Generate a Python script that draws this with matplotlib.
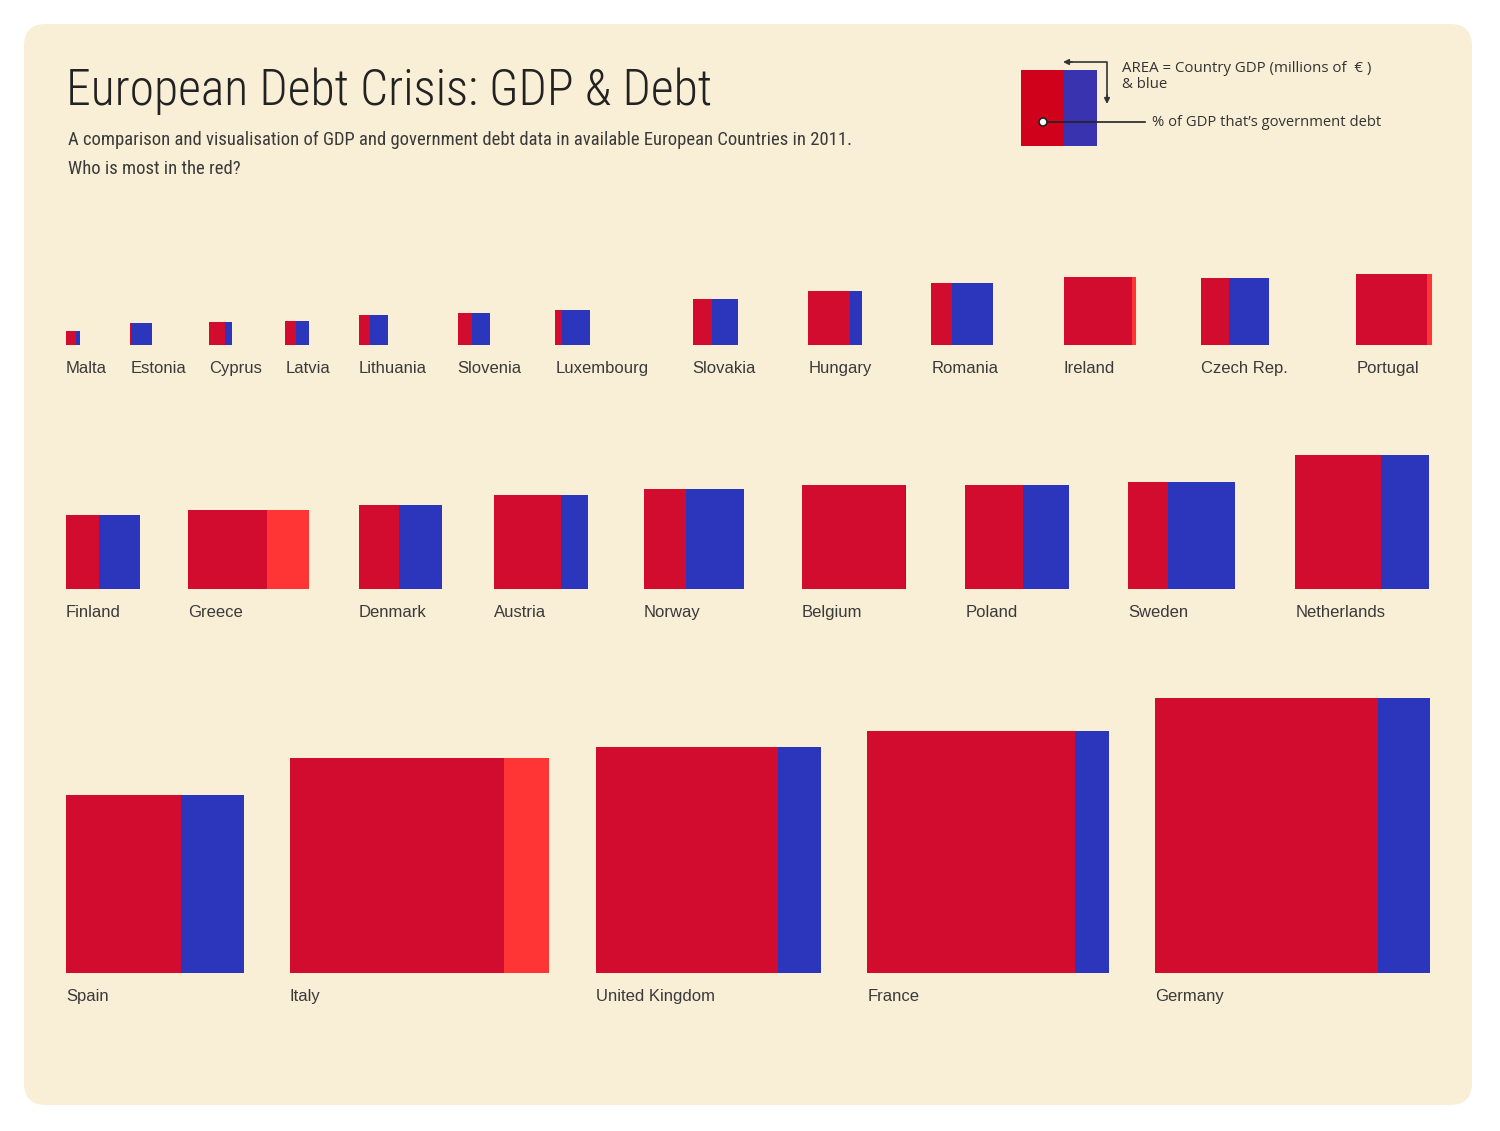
import matplotlib
matplotlib.use("Agg")
import matplotlib.pyplot as plt
from matplotlib.patches import Rectangle, FancyBboxPatch, Circle
from matplotlib import font_manager as fm
import numpy as np

# ---------------- data (2011) ----------------
row1_countries = ["Malta", "Estonia", "Cyprus", "Latvia", "Lithuania", "Slovenia",
                  "Luxembourg", "Slovakia", "Hungary", "Romania", "Ireland",
                  "Czech Rep.", "Portugal"]
row1_gdp = [6400, 16000, 17500, 19500, 30000, 35500, 41500, 71000, 100400,
            130000, 159000, 156000, 171000]          # millions of EUR
row1_debt = [71, 6, 69, 45, 38, 45, 19, 42, 78, 34, 106, 41, 107]  # % of GDP

row2_countries = ["Finland", "Greece", "Denmark", "Austria", "Norway", "Belgium",
                  "Poland", "Sweden", "Netherlands"]
row2_gdp = [190000, 213000, 240500, 306000, 343000, 370000, 370000, 390000, 612000]
row2_debt = [44, 153, 48, 71, 42, 99, 56, 37, 64]

row3_countries = ["Spain", "Italy", "United Kingdom", "France", "Germany"]
row3_gdp = [1080000, 1580000, 1745000, 2001000, 2592000]
row3_debt = [65, 121, 81, 86, 81]

# ---------------- style ----------------
RED = "#D10C2F"
BLUE = "#2B36BC"
EXCESS = "#FF3434"
BG = "#F9EED6"
TXT = "#3A3A3A"

avail = {f.name for f in fm.fontManager.ttflist}
cond_family, cond_stretch = "DejaVu Sans", "normal"
for name in ["Roboto Condensed", "Liberation Sans Narrow", "Open Sans Condensed"]:
    if name in avail:
        cond_family = name
        break
else:
    if any(f.name == "DejaVu Sans" and str(f.stretch) in ("condensed", "semi-condensed")
           for f in fm.fontManager.ttflist):
        cond_stretch = "condensed"
label_family = "Liberation Sans" if "Liberation Sans" in avail else "DejaVu Sans"

W, H = 1500, 1131
fig = plt.figure(figsize=(W / 100, H / 100), dpi=100)
fig.patch.set_facecolor("white")
ax = fig.add_axes([0, 0, 1, 1])
ax.set_xlim(0, W)
ax.set_ylim(H, 0)
ax.axis("off")
renderer = fig.canvas.get_renderer()

# background panel
ax.add_patch(FancyBboxPatch((24, 24), 1448, 1081,
                            boxstyle="round,pad=0,rounding_size=22",
                            facecolor=BG, edgecolor="none", zorder=0))


def fit_text(x, y, s, width, size, **kw):
    t = ax.text(x, y, s, fontsize=size, **kw)
    w = t.get_window_extent(renderer).width
    t.set_fontsize(size * width / w)
    return t


# title / subtitle
fit_text(66, 105, "European Debt Crisis: GDP & Debt", 645, 40,
         family=cond_family, fontstretch=cond_stretch, color="#222222",
         va="baseline", ha="left", fontweight="light")
sub1 = fit_text(68, 145, "A comparison and visualisation of GDP and government debt data in "
                "available European Countries in 2011.", 784, 14,
                family=cond_family, fontstretch=cond_stretch, color=TXT,
                va="baseline", ha="left")
ax.text(68, 174, "Who is most in the red?", fontsize=sub1.get_fontsize(),
        family=cond_family, fontstretch=cond_stretch, color=TXT,
        va="baseline", ha="left")

# ---------------- legend ----------------
LX, LY, LS = 1021, 70, 76
ax.add_patch(Rectangle((LX, LY), 42, LS, facecolor="#D0021B", edgecolor="none", zorder=2))
ax.add_patch(Rectangle((LX + 42, LY), LS - 42, LS, facecolor="#3A33B0",
                       edgecolor="none", zorder=2))
ax.plot([1043, 1145], [122, 122], color="#222222", lw=1.2, zorder=3)
ax.add_patch(Circle((1043, 122), 4, facecolor="white", edgecolor="#222222",
                    lw=1.2, zorder=4))
ax.plot([1068, 1107, 1107], [62, 62, 98], color="#333333", lw=1.2, zorder=3)
ax.annotate("", xy=(1063, 62), xytext=(1072, 62),
            arrowprops=dict(arrowstyle="-|>", color="#333333", lw=1.2,
                            mutation_scale=8, shrinkA=0, shrinkB=0))
ax.annotate("", xy=(1107, 104), xytext=(1107, 95),
            arrowprops=dict(arrowstyle="-|>", color="#333333", lw=1.2,
                            mutation_scale=8, shrinkA=0, shrinkB=0))
leg_family = "Open Sans" if "Open Sans" in avail else label_family
leg1 = fit_text(1122, 68, "AREA = Country GDP (millions of  € )", 250, 10,
                family=leg_family, color="#333333", va="center", ha="left")
ax.text(1122, 84, "& blue", fontsize=leg1.get_fontsize(), family=leg_family,
        color="#333333", va="center", ha="left")
fit_text(1152, 122, "% of GDP that\u2019s government debt", 228, 10,
         family=leg_family, color="#333333", va="center", ha="left")

# ---------------- squares ----------------
K = 275.0 / np.sqrt(max(row3_gdp))   # px per sqrt(million EUR): area ~ GDP


def draw_row(names, gdps, debts, bottom, x0, x1, gap_rule):
    """Lay items left to right with relative gaps from gap_rule(sides),
    scaled so the row spans x0..x1."""
    gdps = np.asarray(gdps, float)
    debts = np.asarray(debts, float)
    sides = K * np.sqrt(gdps)
    total_w = sides * np.maximum(1.0, debts / 100.0)
    labels = [ax.text(0, bottom + 28, n, fontsize=12, family=label_family,
                      color=TXT, va="baseline", ha="left") for n in names]
    lw = np.array([t.get_window_extent(renderer).width for t in labels])
    item_w = np.maximum(total_w, lw)
    gaps = np.asarray(gap_rule(sides), float)
    free = (x1 - x0) - item_w.sum()
    gaps = gaps / gaps.sum() * free
    lefts = x0 + np.concatenate([[0.0], np.cumsum(item_w[:-1] + gaps)])
    for left, s, d, t in zip(lefts, sides, debts, labels):
        red_w = s * min(d, 100.0) / 100.0
        ax.add_patch(Rectangle((left, bottom - s), red_w, s, facecolor=RED,
                               edgecolor="none", zorder=2))
        if d < 100:
            ax.add_patch(Rectangle((left + red_w, bottom - s), s - red_w, s,
                                   facecolor=BLUE, edgecolor="none", zorder=2))
        else:
            ax.add_patch(Rectangle((left + s, bottom - s), s * (d - 100.0) / 100.0, s,
                                   facecolor=EXCESS, edgecolor="none", zorder=2))
        t.set_x(left)


draw_row(row1_countries, row1_gdp, row1_debt, 345, 66, 1432,
         lambda s: np.maximum(24.0, s[1:]))
draw_row(row2_countries, row2_gdp, row2_debt, 589, 66, 1429,
         lambda s: 20.0 + 0.4 * s[:-1])
draw_row(row3_countries, row3_gdp, row3_debt, 973, 66, 1430,
         lambda s: np.ones(len(s) - 1))

fig.savefig("out.png", dpi=100, facecolor="white")
